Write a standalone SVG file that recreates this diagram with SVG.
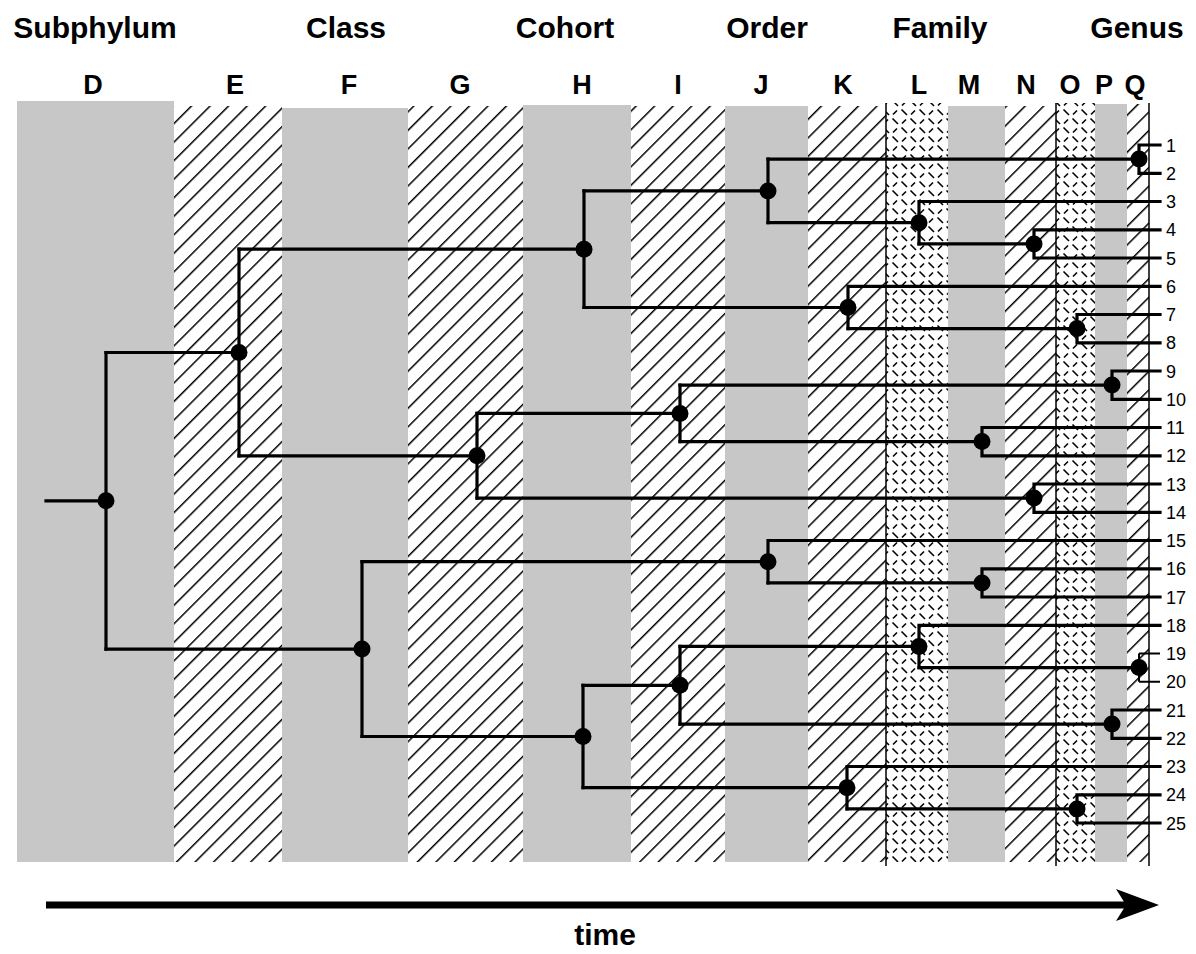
<svg xmlns="http://www.w3.org/2000/svg" width="1196" height="954" viewBox="0 0 1196 954">
<defs>
<pattern id="hatch" patternUnits="userSpaceOnUse" width="13.1" height="10" patternTransform="rotate(45)">
<rect x="0" y="0" width="1.5" height="10" fill="#000"/>
</pattern>
<pattern id="dash" patternUnits="userSpaceOnUse" width="18" height="18">
<g stroke="#000" stroke-width="1.6" stroke-linecap="butt">
<line x1="1.5" y1="1.5" x2="7" y2="7"/>
<line x1="10.5" y1="10.5" x2="16" y2="16"/>
<line x1="11" y1="6.5" x2="15" y2="2.5"/>
<line x1="2" y1="15.5" x2="6" y2="11.5"/>
</g>
</pattern>
</defs>
<style>
.gray{fill:#c7c7c7}
.hat{fill:url(#hatch)}
.dsh{fill:url(#dash)}
.title{font-family:"Liberation Sans",Arial,sans-serif;font-weight:bold;font-size:30px;fill:#000;text-anchor:middle}
.let{font-family:"Liberation Sans",Arial,sans-serif;font-weight:bold;font-size:27px;fill:#000;text-anchor:middle}
.num{font-family:"Liberation Sans",Arial,sans-serif;font-size:18px;fill:#000}
.br{fill:none;stroke:#000;stroke-width:3.2;stroke-linecap:square}
.thin{fill:none;stroke:#000;stroke-width:2}
.dot{fill:#000}
.vl{stroke:#000;stroke-width:1.5}
</style>
<rect width="1196" height="954" fill="#fff"/>
<g id="bands">
<rect class="gray" x="17" y="101" width="157" height="761"/>
<rect class="hat" x="174" y="106" width="108" height="756"/>
<rect class="gray" x="282" y="108" width="126" height="754"/>
<rect class="hat" x="408" y="106" width="115" height="756"/>
<rect class="gray" x="523" y="105" width="108" height="757"/>
<rect class="hat" x="631" y="106" width="94" height="756"/>
<rect class="gray" x="725" y="106" width="83" height="756"/>
<rect class="hat" x="808" y="106" width="78" height="756"/>
<rect class="dsh" x="886" y="103" width="62" height="759"/>
<rect class="gray" x="948" y="106" width="57" height="756"/>
<rect class="hat" x="1005" y="106" width="51" height="756"/>
<rect class="dsh" x="1056" y="103" width="39" height="759"/>
<rect class="gray" x="1095" y="104" width="32" height="758"/>
<rect class="hat" x="1127" y="104" width="22" height="758"/>
<line class="vl" x1="886" y1="103" x2="886" y2="866"/>
<line class="vl" x1="1056" y1="103" x2="1056" y2="866"/>
<line class="vl" x1="1149" y1="103" x2="1149" y2="866"/>
</g>
<g id="titles">
<text class="title" x="95" y="38">Subphylum</text>
<text class="title" x="346" y="38">Class</text>
<text class="title" x="565" y="38">Cohort</text>
<text class="title" x="767" y="38">Order</text>
<text class="title" x="940" y="38">Family</text>
<text class="title" x="1137" y="38">Genus</text>
</g>
<g id="letters">
<text class="let" x="93" y="94">D</text>
<text class="let" x="235" y="94">E</text>
<text class="let" x="349" y="94">F</text>
<text class="let" x="460" y="94">G</text>
<text class="let" x="582" y="94">H</text>
<text class="let" x="678" y="94">I</text>
<text class="let" x="761" y="94">J</text>
<text class="let" x="843" y="94">K</text>
<text class="let" x="919" y="94">L</text>
<text class="let" x="969" y="94">M</text>
<text class="let" x="1026" y="94">N</text>
<text class="let" x="1070" y="94">O</text>
<text class="let" x="1104" y="94">P</text>
<text class="let" x="1135" y="94">Q</text>
</g>
<g id="connectors">
<path class="br" d="M46 500.8 H106 M106 352.5 V649.1"/>
<path class="br" d="M106 352.5 H239 M239 249.2 V455.8"/>
<path class="br" d="M239 249.2 H584 M584 190.9 V307.5"/>
<path class="br" d="M584 190.9 H768 M768 159.1 V222.7"/>
<path class="br" d="M768 159.1 H1139 M1139 145 V173.3 M1139 145 H1160 M1139 173.3 H1160"/>
<path class="br" d="M768 222.7 H919 M919 201.5 V243.9 M919 201.5 H1160"/>
<path class="br" d="M919 243.9 H1034 M1034 229.8 V258 M1034 229.8 H1160 M1034 258 H1160"/>
<path class="br" d="M584 307.5 H848 M848 286.3 V328.6 M848 286.3 H1160"/>
<path class="br" d="M848 328.6 H1077 M1077 314.5 V342.8 M1077 314.5 H1160 M1077 342.8 H1160"/>
<path class="br" d="M239 455.8 H477 M477 413.4 V498.1"/>
<path class="br" d="M477 413.4 H680 M680 385.1 V441.6"/>
<path class="br" d="M680 385.1 H1112 M1112 371 V399.3 M1112 371 H1160 M1112 399.3 H1160"/>
<path class="br" d="M680 441.6 H982 M982 427.5 V455.8 M982 427.5 H1160 M982 455.8 H1160"/>
<path class="br" d="M477 498.1 H1034 M1034 484 V512.3 M1034 484 H1160 M1034 512.3 H1160"/>
<path class="br" d="M106 649.1 H362 M362 561.7 V736.5"/>
<path class="br" d="M362 561.7 H768 M768 540.5 V582.9 M768 540.5 H1160"/>
<path class="br" d="M768 582.9 H982 M982 568.8 V597 M982 568.8 H1160 M982 597 H1160"/>
<path class="br" d="M362 736.5 H583 M583 685.3 V787.7"/>
<path class="br" d="M583 685.3 H680 M680 646.4 V724.1"/>
<path class="br" d="M680 646.4 H919 M919 625.3 V667.6 M919 625.3 H1160"/>
<path class="br" d="M919 667.6 H1139"/>
<path class="thin" d="M1139 653.5 V681.8 M1139 653.5 H1160 M1139 681.8 H1160"/>
<path class="br" d="M680 724.1 H1112 M1112 710 V738.3 M1112 710 H1160 M1112 738.3 H1160"/>
<path class="br" d="M583 787.7 H847 M847 766.5 V808.9 M847 766.5 H1160"/>
<path class="br" d="M847 808.9 H1077 M1077 794.8 V823 M1077 794.8 H1160 M1077 823 H1160"/>
</g>
<g id="nodes">
<circle class="dot" cx="106" cy="500.8" r="8.5"/>
<circle class="dot" cx="239" cy="352.5" r="8.5"/>
<circle class="dot" cx="584" cy="249.2" r="8.5"/>
<circle class="dot" cx="768" cy="190.9" r="8.5"/>
<circle class="dot" cx="1139" cy="159.1" r="8.5"/>
<circle class="dot" cx="919" cy="222.7" r="8.5"/>
<circle class="dot" cx="1034" cy="243.9" r="8.5"/>
<circle class="dot" cx="848" cy="307.5" r="8.5"/>
<circle class="dot" cx="1077" cy="328.6" r="8.5"/>
<circle class="dot" cx="477" cy="455.8" r="8.5"/>
<circle class="dot" cx="680" cy="413.4" r="8.5"/>
<circle class="dot" cx="1112" cy="385.1" r="8.5"/>
<circle class="dot" cx="982" cy="441.6" r="8.5"/>
<circle class="dot" cx="1034" cy="498.1" r="8.5"/>
<circle class="dot" cx="362" cy="649.1" r="8.5"/>
<circle class="dot" cx="768" cy="561.7" r="8.5"/>
<circle class="dot" cx="982" cy="582.9" r="8.5"/>
<circle class="dot" cx="583" cy="736.5" r="8.5"/>
<circle class="dot" cx="680" cy="685.3" r="8.5"/>
<circle class="dot" cx="919" cy="646.4" r="8.5"/>
<circle class="dot" cx="1139" cy="667.6" r="8.5"/>
<circle class="dot" cx="1112" cy="724.1" r="8.5"/>
<circle class="dot" cx="847" cy="787.7" r="8.5"/>
<circle class="dot" cx="1077" cy="808.9" r="8.5"/>
</g>
<g id="leaves">
<text class="num" x="1166" y="151.5">1</text>
<text class="num" x="1166" y="179.8">2</text>
<text class="num" x="1166" y="208">3</text>
<text class="num" x="1166" y="236.3">4</text>
<text class="num" x="1166" y="264.5">5</text>
<text class="num" x="1166" y="292.8">6</text>
<text class="num" x="1166" y="321">7</text>
<text class="num" x="1166" y="349.3">8</text>
<text class="num" x="1166" y="377.5">9</text>
<text class="num" x="1166" y="405.8">10</text>
<text class="num" x="1166" y="434">11</text>
<text class="num" x="1166" y="462.3">12</text>
<text class="num" x="1166" y="490.5">13</text>
<text class="num" x="1166" y="518.8">14</text>
<text class="num" x="1166" y="547">15</text>
<text class="num" x="1166" y="575.3">16</text>
<text class="num" x="1166" y="603.5">17</text>
<text class="num" x="1166" y="631.8">18</text>
<text class="num" x="1166" y="660">19</text>
<text class="num" x="1166" y="688.3">20</text>
<text class="num" x="1166" y="716.5">21</text>
<text class="num" x="1166" y="744.8">22</text>
<text class="num" x="1166" y="773">23</text>
<text class="num" x="1166" y="801.3">24</text>
<text class="num" x="1166" y="829.5">25</text>
</g>
<g id="time-axis">
<line x1="46" y1="905" x2="1128" y2="905" stroke="#000" stroke-width="7"/>
<polygon points="1159,905 1116,889 1126,905 1116,921" fill="#000"/>
<text class="title" x="605" y="945">time</text>
</g>
</svg>
